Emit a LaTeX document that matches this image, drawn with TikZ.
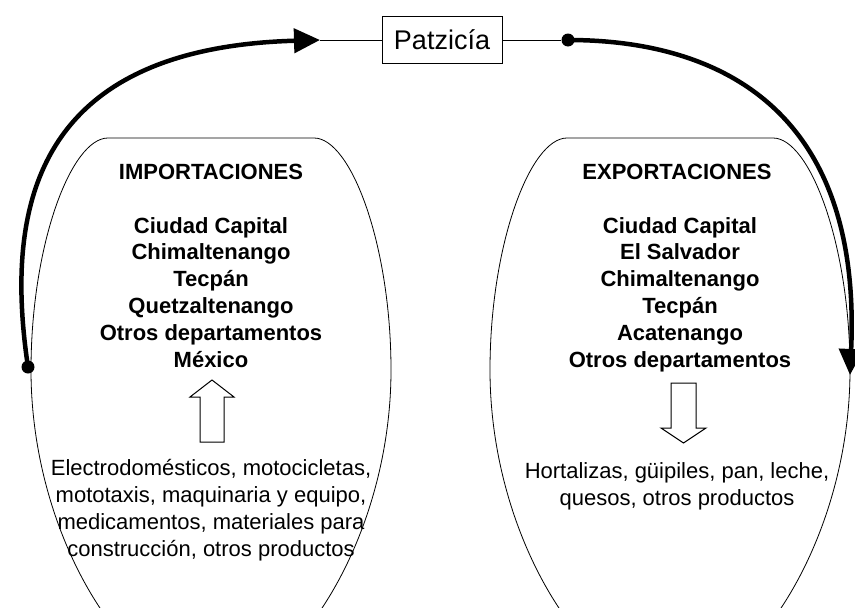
\documentclass[tikz,border=0pt]{standalone}
\usepackage{fontspec}
\setmainfont{Liberation Sans}
\usetikzlibrary{arrows.meta}

\tikzset{
  region/.style={draw, line width=0.8pt},
  flow/.style={line width=4.5pt},
  link/.style={line width=1pt},
  bead/.style={circle, fill, inner sep=0pt, minimum size=13pt},
  townbox/.style={draw, line width=0.8pt, minimum width=120pt, minimum height=47pt, inner sep=0pt, font=\fontsize{27}{32}\selectfont},
  heading/.style={anchor=base, font=\bfseries\fontsize{22}{27}\selectfont},
  city/.style={anchor=base, font=\bfseries\fontsize{22}{27}\selectfont},
  goods/.style={anchor=base, font=\fontsize{22}{27}\selectfont},
  hollow/.style={draw, line width=1pt, fill=white}
}

\begin{document}
\begin{tikzpicture}[x=1pt, y=-1pt]
\useasboundingbox (0,0) rectangle (855,608);

\foreach \cx in {211, 670}
  \draw[region] (\cx-103,138) -- (\cx+103,138)
    .. controls (\cx+140,138) and (\cx+180,245) .. (\cx+180,370)
    .. controls (\cx+180,540) and (\cx+80,690) .. (\cx,690)
    .. controls (\cx-80,690) and (\cx-180,540) .. (\cx-180,370)
    .. controls (\cx-180,245) and (\cx-140,138) .. cycle;

\node[townbox] (patz) at (442,40) {Patzicía};
\node[bead] (impDot) at (28,367) {};
\node[bead] (expDot) at (568,40) {};
\coordinate (impTip) at (320,40);
\coordinate (expTip) at (850,375);

\draw[flow, -{Triangle[length=26pt, width=24pt]}] (impDot.center) .. controls (3,200) and (40,48) .. (impTip);
\draw[flow, -{Triangle[length=26pt, width=24pt]}] (expDot.center) .. controls (720,40) and (862,110) .. (expTip);
\draw[link] (impTip) -- (patz.west);
\draw[link] (patz.east) -- (expDot);

\node[heading] (imp) at (211,179) {IMPORTACIONES};
\node[heading] (exp) at (677,179) {EXPORTACIONES};

\foreach \name [count=\i] in {Ciudad Capital, Chimaltenango, Tecpán, Quetzaltenango, Otros departamentos, México}
  \node[city] (imp\i) at (211, {233+26.9*(\i-1)}) {\name};

\foreach \name [count=\i] in {Ciudad Capital, El Salvador, Chimaltenango, Tecpán, Acatenango, Otros departamentos}
  \node[city] (exp\i) at (680, {233+26.9*(\i-1)}) {\name};

\draw[hollow] (200,442) -- (200,397) -- (190,397) -- (212,380) -- (234,397) -- (224,397) -- (224,442) -- cycle;
\draw[hollow] (671,383) -- (671,428) -- (661,428) -- (683.5,443) -- (706,428) -- (696,428) -- (696,383) -- cycle;

\foreach \line [count=\i] in {{Electrodomésticos, motocicletas,}, {mototaxis, maquinaria y equipo,}, {medicamentos, materiales para}, {construcción, otros productos}}
  \node[goods] (impg\i) at (211, {475+27*(\i-1)}) {\line};

\foreach \line [count=\i] in {{Hortalizas, güipiles, pan, leche,}, {quesos, otros productos}}
  \node[goods] (expg\i) at (677, {478+27*(\i-1)}) {\line};

\end{tikzpicture}
\end{document}
